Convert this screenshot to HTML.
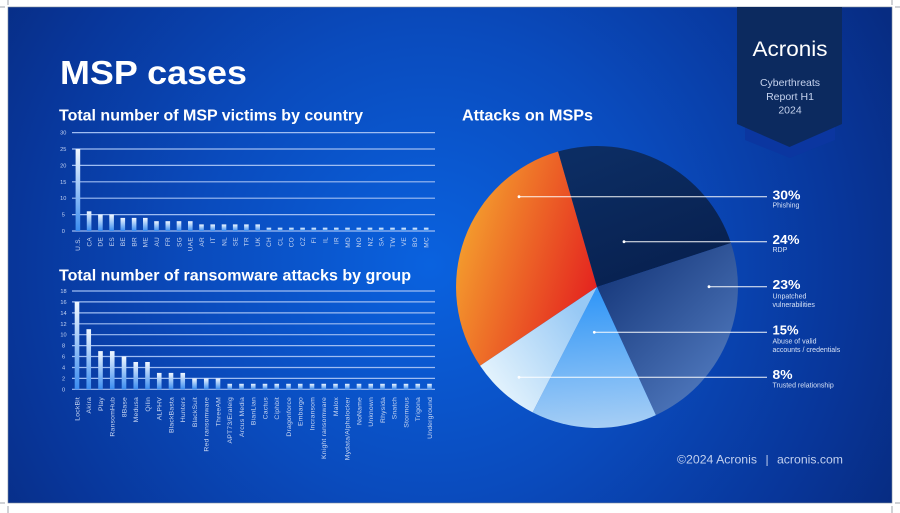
<!DOCTYPE html>
<html><head><meta charset="utf-8"><style>
html,body{margin:0;padding:0;background:#fff;}
svg{display:block;}
text{font-family:"Liberation Sans",Arial,sans-serif;}
</style></head><body>
<svg width="900" height="513" viewBox="0 0 900 513" xmlns="http://www.w3.org/2000/svg">
<defs>
<radialGradient id="bg" gradientUnits="userSpaceOnUse" cx="430" cy="265" r="520" fx="430" fy="265">
<stop offset="0" stop-color="#0a62df"/>
<stop offset="0.45" stop-color="#0a4bbd"/>
<stop offset="0.8" stop-color="#08369a"/>
<stop offset="1" stop-color="#072c82"/>
</radialGradient>
<linearGradient id="bar" x1="0" y1="0" x2="0" y2="1">
<stop offset="0" stop-color="#f2f8ff"/>
<stop offset="1" stop-color="#3a8cf0"/>
</linearGradient>
<linearGradient id="gPh" gradientUnits="userSpaceOnUse" x1="462" y1="250" x2="598" y2="292">
<stop offset="0" stop-color="#f3982d"/>
<stop offset="1" stop-color="#e4211f"/>
</linearGradient>
<linearGradient id="gRdp" gradientUnits="userSpaceOnUse" x1="600" y1="150" x2="650" y2="280">
<stop offset="0" stop-color="#0c2d63"/>
<stop offset="1" stop-color="#082150"/>
</linearGradient>
<linearGradient id="gUn" gradientUnits="userSpaceOnUse" x1="610" y1="280" x2="720" y2="390">
<stop offset="0" stop-color="#1b3d80"/>
<stop offset="1" stop-color="#5079be"/>
</linearGradient>
<linearGradient id="gAb" gradientUnits="userSpaceOnUse" x1="590" y1="295" x2="600" y2="428">
<stop offset="0" stop-color="#3498f7"/>
<stop offset="1" stop-color="#a6cef5"/>
</linearGradient>
<linearGradient id="gTr" gradientUnits="userSpaceOnUse" x1="485" y1="390" x2="585" y2="320">
<stop offset="0" stop-color="#e9f6fd"/>
<stop offset="1" stop-color="#98c9f5"/>
</linearGradient>
</defs>

<!-- crop marks -->
<g stroke="#8a8f99" stroke-width="0.8">
<line x1="8" y1="0" x2="8" y2="5"/><line x1="0" y1="7" x2="5" y2="7"/>
<line x1="892" y1="0" x2="892" y2="5"/><line x1="895" y1="7" x2="900" y2="7"/>
<line x1="8" y1="506" x2="8" y2="513"/><line x1="0" y1="503" x2="5" y2="503"/>
<line x1="892" y1="506" x2="892" y2="513"/><line x1="895" y1="503" x2="900" y2="503"/>
</g>

<!-- background -->
<rect x="8" y="7" width="884" height="496" fill="url(#bg)" stroke="#7f8a9c" stroke-width="0.6"/>

<!-- badge -->
<path d="M745 120 L835 120 L835 140 L790 158 L745 140 Z" fill="#0b36a0"/>
<path d="M737 7 L842 7 L842 124 L789.5 147 L737 124 Z" fill="#0c2a5f"/>
<text x="790" y="56" font-size="21" fill="#ffffff" text-anchor="middle" textLength="75" lengthAdjust="spacingAndGlyphs">Acronis</text>
<text x="790" y="86" font-size="10.5" fill="#c6d3ee" text-anchor="middle">Cyberthreats</text>
<text x="790" y="100" font-size="10.5" fill="#c6d3ee" text-anchor="middle">Report H1</text>
<text x="790" y="113.5" font-size="10.5" fill="#c6d3ee" text-anchor="middle">2024</text>

<!-- titles -->
<text x="60" y="84" font-size="33" font-weight="bold" fill="#ffffff" textLength="187" lengthAdjust="spacingAndGlyphs">MSP cases</text>
<text x="59" y="120.7" font-size="16" font-weight="bold" fill="#ffffff" textLength="304" lengthAdjust="spacingAndGlyphs">Total number of MSP victims by country</text>
<text x="59" y="280.7" font-size="16" font-weight="bold" fill="#ffffff" textLength="352" lengthAdjust="spacingAndGlyphs">Total number of ransomware attacks by group</text>
<text x="462" y="120.7" font-size="16" font-weight="bold" fill="#ffffff" textLength="131" lengthAdjust="spacingAndGlyphs">Attacks on MSPs</text>

<!-- chart 1 grid -->
<g stroke="#9fbdf2" stroke-width="1.2">
<line x1="72" x2="435" y1="231" y2="231"/>
<line x1="72" x2="435" y1="214.6" y2="214.6"/>
<line x1="72" x2="435" y1="198.2" y2="198.2"/>
<line x1="72" x2="435" y1="181.8" y2="181.8"/>
<line x1="72" x2="435" y1="165.4" y2="165.4"/>
<line x1="72" x2="435" y1="149" y2="149"/>
<line x1="72" x2="435" y1="132.6" y2="132.6"/>
</g>
<g font-size="5.6" fill="#c5d4f2" text-anchor="middle">
<text x="63.3" y="233">0</text><text x="63.3" y="216.6">5</text><text x="63.3" y="200.2">10</text>
<text x="63.3" y="183.8">15</text><text x="63.3" y="167.4">20</text><text x="63.3" y="151">25</text><text x="63.3" y="134.6">30</text>
</g>
<g fill="url(#bar)">
<rect x="75.6" y="149" width="4.6" height="82"/>
<rect x="86.8" y="211.3" width="4.6" height="19.7"/>
<rect x="98.1" y="214.6" width="4.6" height="16.4"/>
<rect x="109.3" y="214.6" width="4.6" height="16.4"/>
<rect x="120.5" y="217.9" width="4.6" height="13.1"/>
<rect x="131.8" y="217.9" width="4.6" height="13.1"/>
<rect x="143" y="217.9" width="4.6" height="13.1"/>
<rect x="154.2" y="221.2" width="4.6" height="9.8"/>
<rect x="165.5" y="221.2" width="4.6" height="9.8"/>
<rect x="176.7" y="221.2" width="4.6" height="9.8"/>
<rect x="188" y="221.2" width="4.6" height="9.8"/>
<rect x="199.2" y="224.4" width="4.6" height="6.6"/>
<rect x="210.4" y="224.4" width="4.6" height="6.6"/>
<rect x="221.7" y="224.4" width="4.6" height="6.6"/>
<rect x="232.9" y="224.4" width="4.6" height="6.6"/>
<rect x="244.1" y="224.4" width="4.6" height="6.6"/>
<rect x="255.4" y="224.4" width="4.6" height="6.6"/>
<rect x="266.6" y="227.7" width="4.6" height="3.3"/>
<rect x="277.8" y="227.7" width="4.6" height="3.3"/>
<rect x="289.1" y="227.7" width="4.6" height="3.3"/>
<rect x="300.3" y="227.7" width="4.6" height="3.3"/>
<rect x="311.5" y="227.7" width="4.6" height="3.3"/>
<rect x="322.8" y="227.7" width="4.6" height="3.3"/>
<rect x="334" y="227.7" width="4.6" height="3.3"/>
<rect x="345.2" y="227.7" width="4.6" height="3.3"/>
<rect x="356.5" y="227.7" width="4.6" height="3.3"/>
<rect x="367.7" y="227.7" width="4.6" height="3.3"/>
<rect x="378.9" y="227.7" width="4.6" height="3.3"/>
<rect x="390.2" y="227.7" width="4.6" height="3.3"/>
<rect x="401.4" y="227.7" width="4.6" height="3.3"/>
<rect x="412.6" y="227.7" width="4.6" height="3.3"/>
<rect x="423.9" y="227.7" width="4.6" height="3.3"/>
</g>
<g font-size="6.5" fill="#c9d7f2" text-anchor="end" letter-spacing="0.3">
<text transform="translate(80.2,237) rotate(-90)">U.S.</text>
<text transform="translate(91.4,237) rotate(-90)">CA</text>
<text transform="translate(102.7,237) rotate(-90)">DE</text>
<text transform="translate(113.9,237) rotate(-90)">ES</text>
<text transform="translate(125.1,237) rotate(-90)">BE</text>
<text transform="translate(136.4,237) rotate(-90)">BR</text>
<text transform="translate(147.6,237) rotate(-90)">ME</text>
<text transform="translate(158.8,237) rotate(-90)">AU</text>
<text transform="translate(170.1,237) rotate(-90)">FR</text>
<text transform="translate(181.3,237) rotate(-90)">SG</text>
<text transform="translate(192.6,237) rotate(-90)">UAE</text>
<text transform="translate(203.8,237) rotate(-90)">AR</text>
<text transform="translate(215,237) rotate(-90)">IT</text>
<text transform="translate(226.3,237) rotate(-90)">NL</text>
<text transform="translate(237.5,237) rotate(-90)">SE</text>
<text transform="translate(248.7,237) rotate(-90)">TR</text>
<text transform="translate(260,237) rotate(-90)">UK</text>
<text transform="translate(271.2,237) rotate(-90)">CH</text>
<text transform="translate(282.4,237) rotate(-90)">CL</text>
<text transform="translate(293.7,237) rotate(-90)">CO</text>
<text transform="translate(304.9,237) rotate(-90)">CZ</text>
<text transform="translate(316.1,237) rotate(-90)">FI</text>
<text transform="translate(327.4,237) rotate(-90)">IL</text>
<text transform="translate(338.6,237) rotate(-90)">IR</text>
<text transform="translate(349.8,237) rotate(-90)">MD</text>
<text transform="translate(361.1,237) rotate(-90)">NO</text>
<text transform="translate(372.3,237) rotate(-90)">NZ</text>
<text transform="translate(383.5,237) rotate(-90)">SA</text>
<text transform="translate(394.8,237) rotate(-90)">TW</text>
<text transform="translate(406,237) rotate(-90)">VE</text>
<text transform="translate(417.2,237) rotate(-90)">BO</text>
<text transform="translate(428.5,237) rotate(-90)">MC</text>
</g>

<!-- chart 2 grid -->
<g stroke="#9fbdf2" stroke-width="1.2">
<line x1="72" x2="435" y1="389.3" y2="389.3"/>
<line x1="72" x2="435" y1="378.4" y2="378.4"/>
<line x1="72" x2="435" y1="367.5" y2="367.5"/>
<line x1="72" x2="435" y1="356.5" y2="356.5"/>
<line x1="72" x2="435" y1="345.6" y2="345.6"/>
<line x1="72" x2="435" y1="334.7" y2="334.7"/>
<line x1="72" x2="435" y1="323.8" y2="323.8"/>
<line x1="72" x2="435" y1="312.9" y2="312.9"/>
<line x1="72" x2="435" y1="301.9" y2="301.9"/>
<line x1="72" x2="435" y1="291" y2="291"/>
</g>
<g font-size="5.6" fill="#c5d4f2" text-anchor="middle">
<text x="63.5" y="391.3">0</text><text x="63.5" y="380.4">2</text><text x="63.5" y="369.5">4</text>
<text x="63.5" y="358.5">6</text><text x="63.5" y="347.6">8</text><text x="63.5" y="336.7">10</text>
<text x="63.5" y="325.8">12</text><text x="63.5" y="314.9">14</text><text x="63.5" y="303.9">16</text><text x="63.5" y="293">18</text>
</g>
<g fill="url(#bar)">
<rect x="74.7" y="301.9" width="4.6" height="87.4"/>
<rect x="86.45" y="329.2" width="4.6" height="60.1"/>
<rect x="98.2" y="351.1" width="4.6" height="38.2"/>
<rect x="109.95" y="351.1" width="4.6" height="38.2"/>
<rect x="121.7" y="356.5" width="4.6" height="32.8"/>
<rect x="133.45" y="362" width="4.6" height="27.3"/>
<rect x="145.2" y="362" width="4.6" height="27.3"/>
<rect x="156.95" y="372.9" width="4.6" height="16.4"/>
<rect x="168.7" y="372.9" width="4.6" height="16.4"/>
<rect x="180.45" y="372.9" width="4.6" height="16.4"/>
<rect x="192.2" y="378.4" width="4.6" height="10.9"/>
<rect x="203.95" y="378.4" width="4.6" height="10.9"/>
<rect x="215.7" y="378.4" width="4.6" height="10.9"/>
<rect x="227.45" y="383.8" width="4.6" height="5.5"/>
<rect x="239.2" y="383.8" width="4.6" height="5.5"/>
<rect x="250.95" y="383.8" width="4.6" height="5.5"/>
<rect x="262.7" y="383.8" width="4.6" height="5.5"/>
<rect x="274.45" y="383.8" width="4.6" height="5.5"/>
<rect x="286.2" y="383.8" width="4.6" height="5.5"/>
<rect x="297.95" y="383.8" width="4.6" height="5.5"/>
<rect x="309.7" y="383.8" width="4.6" height="5.5"/>
<rect x="321.45" y="383.8" width="4.6" height="5.5"/>
<rect x="333.2" y="383.8" width="4.6" height="5.5"/>
<rect x="344.95" y="383.8" width="4.6" height="5.5"/>
<rect x="356.7" y="383.8" width="4.6" height="5.5"/>
<rect x="368.45" y="383.8" width="4.6" height="5.5"/>
<rect x="380.2" y="383.8" width="4.6" height="5.5"/>
<rect x="391.95" y="383.8" width="4.6" height="5.5"/>
<rect x="403.7" y="383.8" width="4.6" height="5.5"/>
<rect x="415.45" y="383.8" width="4.6" height="5.5"/>
<rect x="427.2" y="383.8" width="4.6" height="5.5"/>
</g>
<g font-size="6.8" fill="#c9d7f2" text-anchor="end" letter-spacing="0.2">
<text transform="translate(79.4,397) rotate(-90)">LockBit</text>
<text transform="translate(91.15,397) rotate(-90)">Akira</text>
<text transform="translate(102.9,397) rotate(-90)">Play</text>
<text transform="translate(114.65,397) rotate(-90)">RansomHub</text>
<text transform="translate(126.4,397) rotate(-90)">8Base</text>
<text transform="translate(138.15,397) rotate(-90)">Medusa</text>
<text transform="translate(149.9,397) rotate(-90)">Qilin</text>
<text transform="translate(161.65,397) rotate(-90)">ALPHV</text>
<text transform="translate(173.4,397) rotate(-90)">BlackBasta</text>
<text transform="translate(185.15,397) rotate(-90)">Hunters</text>
<text transform="translate(196.9,397) rotate(-90)">BlackSuit</text>
<text transform="translate(208.65,397) rotate(-90)">Red ransomware</text>
<text transform="translate(220.4,397) rotate(-90)">ThreeAM</text>
<text transform="translate(232.15,397) rotate(-90)">APT73/Eraleig</text>
<text transform="translate(243.9,397) rotate(-90)">Arcus Media</text>
<text transform="translate(255.65,397) rotate(-90)">BianLian</text>
<text transform="translate(267.4,397) rotate(-90)">Cactus</text>
<text transform="translate(279.15,397) rotate(-90)">Ciphbit</text>
<text transform="translate(290.9,397) rotate(-90)">Dragonforce</text>
<text transform="translate(302.65,397) rotate(-90)">Embargo</text>
<text transform="translate(314.4,397) rotate(-90)">Incransom</text>
<text transform="translate(326.15,397) rotate(-90)">Knight ransomware</text>
<text transform="translate(337.9,397) rotate(-90)">Malox</text>
<text transform="translate(349.65,397) rotate(-90)">Mydata/Alphalocker</text>
<text transform="translate(361.4,397) rotate(-90)">NoName</text>
<text transform="translate(373.15,397) rotate(-90)">Unknown</text>
<text transform="translate(384.9,397) rotate(-90)">Rhysida</text>
<text transform="translate(396.65,397) rotate(-90)">Snatch</text>
<text transform="translate(408.4,397) rotate(-90)">Stormous</text>
<text transform="translate(420.15,397) rotate(-90)">Trigona</text>
<text transform="translate(431.9,397) rotate(-90)">Underground</text>
</g>

<!-- pie -->
<path d="M597 287 L480.1 365.8 A141 141 0 0 1 558.1 151.5 Z" fill="url(#gPh)"/>
<path d="M597 287 L558.1 151.5 A141 141 0 0 1 730.9 243 Z" fill="url(#gRdp)"/>
<path d="M597 287 L730.9 243 A141 141 0 0 1 655.9 415.1 Z" fill="url(#gUn)"/>
<path d="M597 287 L655.9 415.1 A141 141 0 0 1 532.6 412.4 Z" fill="url(#gAb)"/>
<path d="M597 287 L532.6 412.4 A141 141 0 0 1 480.1 365.8 Z" fill="url(#gTr)"/>

<!-- leaders -->
<g stroke="#ffffff" stroke-width="1" opacity="0.95">
<line x1="519" y1="196.7" x2="767" y2="196.7"/>
<line x1="624" y1="241.7" x2="767" y2="241.7"/>
<line x1="709" y1="286.7" x2="767" y2="286.7"/>
<line x1="594.3" y1="332.3" x2="767" y2="332.3"/>
<line x1="519" y1="377.3" x2="767" y2="377.3"/>
</g>
<g fill="#ffffff">
<circle cx="519" cy="196.7" r="1.4"/><circle cx="624" cy="241.7" r="1.4"/>
<circle cx="709" cy="286.7" r="1.4"/><circle cx="594.3" cy="332.3" r="1.4"/>
<circle cx="519" cy="377.3" r="1.4"/>
</g>
<g font-size="13" font-weight="bold" fill="#ffffff">
<text x="772.5" y="199.3" textLength="28" lengthAdjust="spacingAndGlyphs">30%</text>
<text x="772.5" y="244" textLength="27" lengthAdjust="spacingAndGlyphs">24%</text>
<text x="772.5" y="289" textLength="28" lengthAdjust="spacingAndGlyphs">23%</text>
<text x="772.5" y="334.3" textLength="26" lengthAdjust="spacingAndGlyphs">15%</text>
<text x="772.5" y="379" textLength="20" lengthAdjust="spacingAndGlyphs">8%</text>
</g>
<g font-size="7" fill="#d6e1f5">
<text x="772.5" y="207.5">Phishing</text>
<text x="772.5" y="252.2">RDP</text>
<text x="772.5" y="298.7">Unpatched</text>
<text x="772.5" y="307.2">vulnerabilities</text>
<text x="772.5" y="343.3">Abuse of valid</text>
<text x="772.5" y="352">accounts / credentials</text>
<text x="772.5" y="387.7">Trusted relationship</text>
</g>

<!-- footer -->
<g font-size="12" fill="#c2d0ee">
<text x="677" y="463.5" textLength="80" lengthAdjust="spacingAndGlyphs">©2024 Acronis</text>
<text x="765.5" y="463.5">|</text>
<text x="777" y="463.5" textLength="66" lengthAdjust="spacingAndGlyphs">acronis.com</text>
</g>
</svg>
</body></html>
